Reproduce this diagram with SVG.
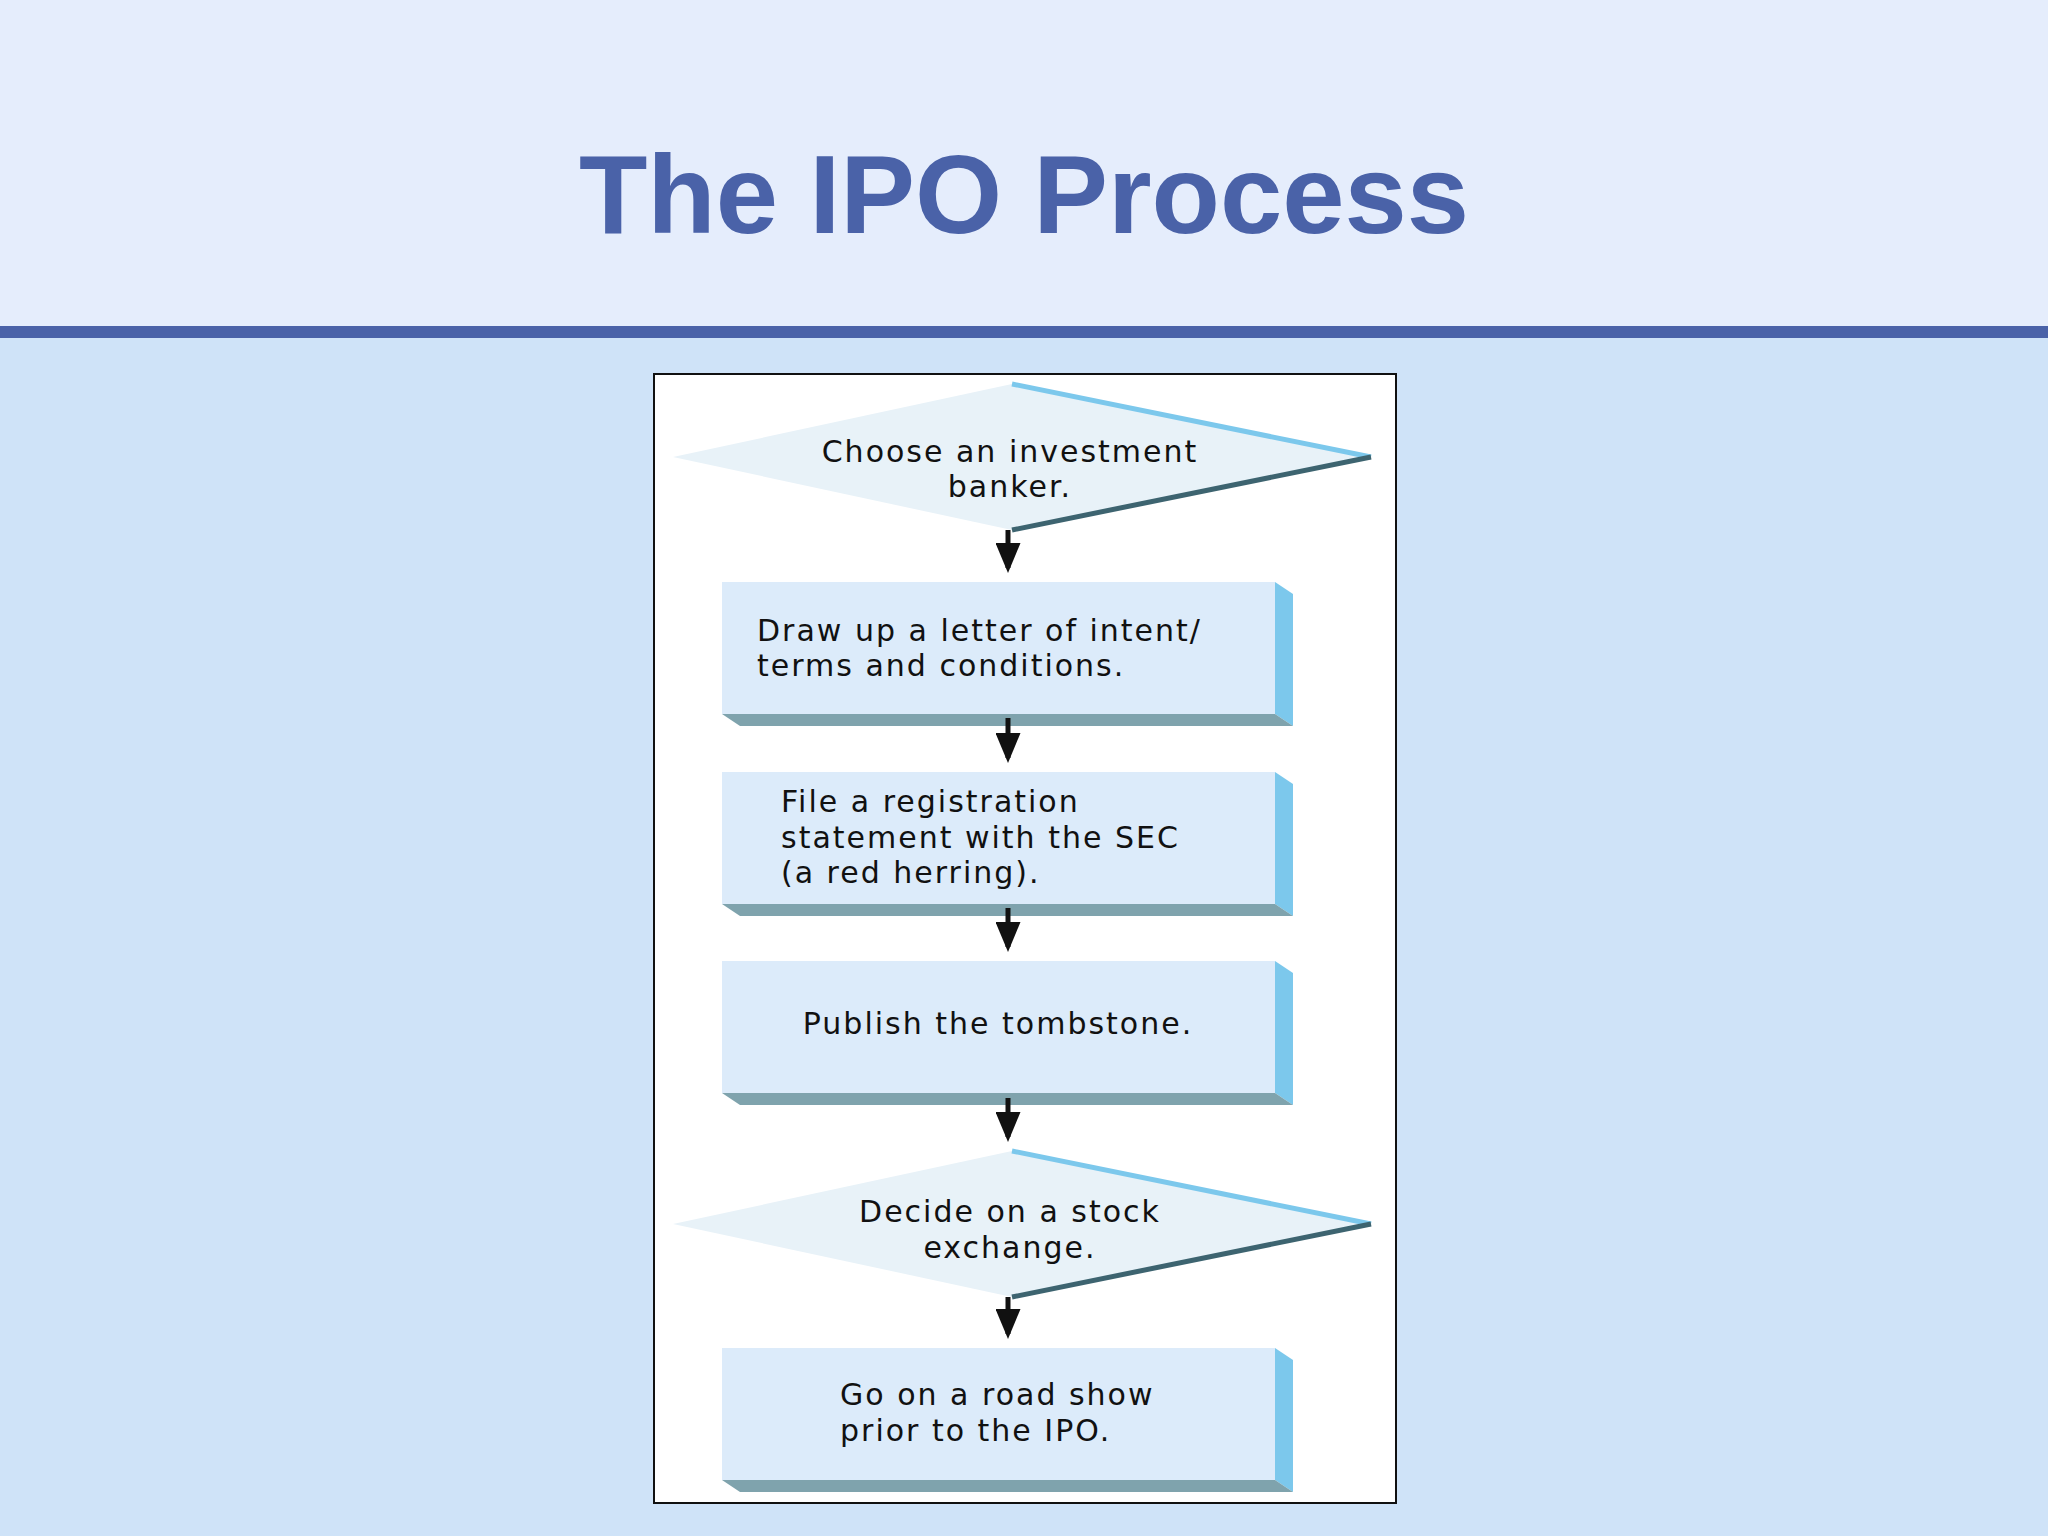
<svg xmlns="http://www.w3.org/2000/svg" width="2048" height="1536" viewBox="0 0 2048 1536">
<defs>
<style>
.t{font-family:"DejaVu Sans",sans-serif;font-size:30px;fill:#111;letter-spacing:2px}
.face{fill:#dcebfa}
.side{fill:#7cc8ec}
.bot{fill:#7fa3ad}
.dia{fill:#e8f2f8}
.ar{stroke:#111;stroke-width:5;fill:none}
</style>
<marker id="ah" markerWidth="6" markerHeight="5" refX="5" refY="2.5" orient="auto" markerUnits="strokeWidth"><path d="M0,0L6,2.5L0,5z" fill="#111"/></marker>
</defs>
<rect width="2048" height="1536" fill="#cfe3f8"/>
<rect width="2048" height="326" fill="#e5edfc"/>
<rect y="326" width="2048" height="12" fill="#4a62a8"/>
<text x="1024" y="233" text-anchor="middle" font-family="Liberation Sans, Arial, sans-serif" font-weight="bold" font-size="112" fill="#4a62a8">The IPO Process</text>
<rect x="654" y="374" width="742" height="1129" fill="#fff" stroke="#111" stroke-width="2"/>
<g id="d1">
<polygon class="dia" points="673,457 1012,384 1371,457 1012,530"/>
<line x1="1012" y1="384" x2="1371" y2="457" stroke="#7cc8ec" stroke-width="5"/>
<line x1="1371" y1="457" x2="1012" y2="530" stroke="#3d6470" stroke-width="5"/>
<text class="t" x="1010" y="462" text-anchor="middle">Choose an investment</text>
<text class="t" x="1010" y="497" text-anchor="middle">banker.</text>
</g>
<g id="b1">
<rect class="face" x="722" y="582" width="553" height="132"/>
<polygon class="side" points="1275,582 1293,594 1293,726 1275,714"/>
<polygon class="bot" points="722,714 1275,714 1293,726 740,726"/>
<text class="t" x="757" y="641">Draw up a letter of intent/</text>
<text class="t" x="757" y="676">terms and conditions.</text>
</g>
<g id="b2">
<rect class="face" x="722" y="772" width="553" height="132"/>
<polygon class="side" points="1275,772 1293,784 1293,916 1275,904"/>
<polygon class="bot" points="722,904 1275,904 1293,916 740,916"/>
<text class="t" x="781" y="812">File a registration</text>
<text class="t" x="781" y="848">statement with the SEC</text>
<text class="t" x="781" y="883">(a red herring).</text>
</g>
<g id="b3">
<rect class="face" x="722" y="961" width="553" height="132"/>
<polygon class="side" points="1275,961 1293,973 1293,1105 1275,1093"/>
<polygon class="bot" points="722,1093 1275,1093 1293,1105 740,1105"/>
<text class="t" x="998" y="1034" text-anchor="middle">Publish the tombstone.</text>
</g>
<g id="d2">
<polygon class="dia" points="673,1224 1012,1151 1371,1224 1012,1297"/>
<line x1="1012" y1="1151" x2="1371" y2="1224" stroke="#7cc8ec" stroke-width="5"/>
<line x1="1371" y1="1224" x2="1012" y2="1297" stroke="#3d6470" stroke-width="5"/>
<text class="t" x="1010" y="1222" text-anchor="middle">Decide on a stock</text>
<text class="t" x="1010" y="1258" text-anchor="middle">exchange.</text>
</g>
<g id="b4">
<rect class="face" x="722" y="1348" width="553" height="132"/>
<polygon class="side" points="1275,1348 1293,1360 1293,1492 1275,1480"/>
<polygon class="bot" points="722,1480 1275,1480 1293,1492 740,1492"/>
<text class="t" x="840" y="1405">Go on a road show</text>
<text class="t" x="840" y="1441">prior to the IPO.</text>
</g>
<g id="connectors">
<line class="ar" x1="1008" y1="530" x2="1008" y2="568" marker-end="url(#ah)"/>
<line class="ar" x1="1008" y1="718" x2="1008" y2="758" marker-end="url(#ah)"/>
<line class="ar" x1="1008" y1="908" x2="1008" y2="947" marker-end="url(#ah)"/>
<line class="ar" x1="1008" y1="1098" x2="1008" y2="1137" marker-end="url(#ah)"/>
<line class="ar" x1="1008" y1="1297" x2="1008" y2="1334" marker-end="url(#ah)"/>
</g>
</svg>
